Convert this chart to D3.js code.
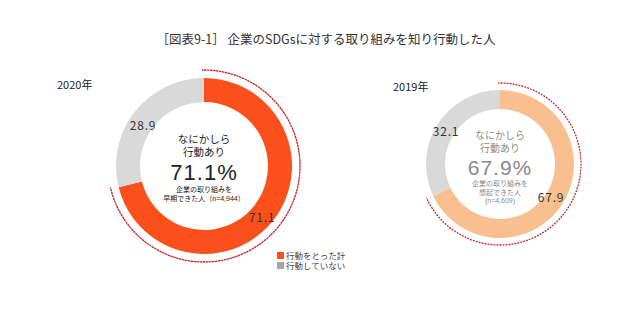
<!DOCTYPE html>
<html lang="ja">
<head>
<meta charset="utf-8">
<script src="https://cdn.jsdelivr.net/npm/d3@7"></script>
<style>
  body { margin: 0; background: #fff; }
  svg text { font-family: "Noto Sans CJK JP", "Noto Sans", sans-serif; }
  svg text.tight { font-family: "Liberation Sans", "Noto Sans CJK JP", sans-serif; }
</style>
</head>
<body>
<svg id="chart" width="640" height="327"></svg>
<script>
var title = "［図表9-1］ 企業のSDGsに対する取り組みを知り行動した人";
var years = ["2020年", "2019年"];
var acted = [71.1, 67.9];
var notActed = [28.9, 32.1];
var centerLines = [
  ["なにかしら", "行動あり"],
  ["なにかしら", "行動あり"]
];
var bigLabels = ["71.1%", "67.9%"];
var subLines = [
  ["企業の取り組みを", "早期できた人（n=4,944）"],
  ["企業の取り組みを", "想起できた人", "(n=4,609)"]
];
var legendLabels = ["行動をとった計", "行動していない"];

var svg = d3.select("#chart");

svg.append("text")
  .attr("x", 326).attr("y", 44)
  .attr("text-anchor", "middle")
  .attr("font-size", 12.5)
  .attr("fill", "#333")
  .text(title);

// layout per donut
var donuts = [
  {cx: 204, cy: 166, r: 88, ir: 64, dr: 96, color: "#fb4f1c", gray: "#d9d9d9", txt: "#222", yx: 57, yy: 89,
   lab: [[262, 222], [143, 130]]},
  {cx: 500, cy: 164, r: 74, ir: 55, dr: 81, color: "#f9bf8e", gray: "#d9d9d9", txt: "#8a8a8a", yx: 393, yy: 91,
   lab: [[551, 202], [446, 136]]}
];

donuts.forEach(function(d, i) {
  var g = svg.append("g").attr("transform", "translate(" + d.cx + "," + d.cy + ")");
  var vals = [acted[i], notActed[i]];
  var pie = d3.pie().sort(null).value(function(v) { return v; });
  var arcs = pie(vals);
  var arc = d3.arc().innerRadius(d.ir).outerRadius(d.r);

  g.selectAll("path.slice")
    .data(arcs)
    .enter().append("path")
    .attr("class", "slice")
    .attr("d", arc)
    .attr("fill", function(a, k) { return k == 0 ? d.color : d.gray; });

  // dotted arc around the acted part
  var dotted = d3.arc().innerRadius(d.dr).outerRadius(d.dr);
  g.append("path")
    .attr("d", dotted({startAngle: -0.02, endAngle: arcs[0].endAngle + 0.02}))
    .attr("fill", "none")
    .attr("stroke", "#c4252c")
    .attr("stroke-width", 1.3)
    .attr("stroke-dasharray", "1.3,1.7");

  // value labels
  [acted[i], notActed[i]].forEach(function(v, k) {
    svg.append("text")
      .attr("x", d.lab[k][0]).attr("y", d.lab[k][1])
      .attr("text-anchor", "middle")
      .attr("font-size", 12)
      .attr("letter-spacing", 0.8)
      .attr("fill", "#333")
      .text(v.toFixed(1));
  });

  // year label
  svg.append("text")
    .attr("x", d.yx).attr("y", d.yy)
    .attr("font-size", 11)
    .attr("fill", "#222")
    .text(years[i]);

  // centre text
  var ty = i == 0 ? [143, 156] : [139, 152];
  centerLines[i].forEach(function(s, k) {
    g.append("text")
      .attr("class", "tight")
      .attr("y", ty[k] - d.cy)
      .attr("text-anchor", "middle")
      .attr("font-size", i == 0 ? 10.5 : 10)
      .attr("fill", d.txt)
      .text(s);
  });
  g.append("text")
    .attr("class", "tight")
    .attr("y", (i == 0 ? 180 : 175) - d.cy)
    .attr("text-anchor", "middle")
    .attr("font-size", i == 0 ? 22 : 21)
    .attr("letter-spacing", 1)
    .attr("fill", d.txt)
    .text(bigLabels[i]);
  var sy = i == 0 ? [191.5, 201] : [186, 194.5, 203];
  subLines[i].forEach(function(s, k) {
    g.append("text")
      .attr("class", "tight")
      .attr("y", sy[k] - d.cy)
      .attr("text-anchor", "middle")
      .attr("font-size", 7)
      .attr("fill", d.txt)
      .text(s);
  });
});

// legend
var legColors = ["#fb4f1c", "#a6a6a6"];
legendLabels.forEach(function(s, k) {
  var y = 252 + k * 10;
  svg.append("rect")
    .attr("x", 277).attr("y", y)
    .attr("width", 7).attr("height", 7)
    .attr("fill", legColors[k]);
  svg.append("text")
    .attr("class", "tight")
    .attr("x", 286).attr("y", y + 7)
    .attr("font-size", 8.5)
    .attr("fill", "#444")
    .text(s);
});
</script>
</body>
</html>
